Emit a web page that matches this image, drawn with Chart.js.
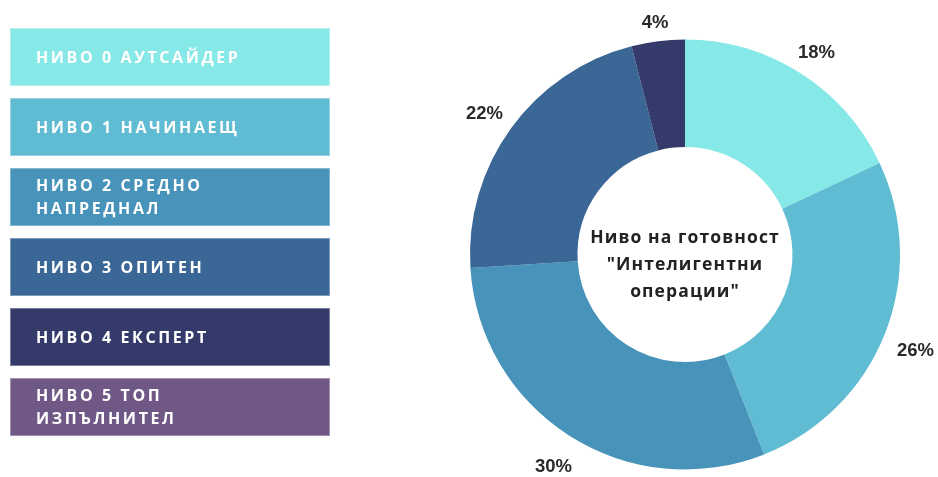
<!DOCTYPE html>
<html>
<head>
<meta charset="utf-8">
<script src="https://cdn.jsdelivr.net/npm/chart.js@4.4.1/dist/chart.umd.min.js"></script>
<style>
  html, body { margin: 0; padding: 0; background: #fff; }
  #wrap { position: relative; width: 938px; height: 477px; }
  #chart { position: absolute; left: 0; top: 0; }
  #legend { position: absolute; left: 10px; top: 28px; }
  .item {
    width: 320px; height: 58px; margin-bottom: 12px; box-sizing: border-box;
    display: flex; align-items: center; padding-left: 25px;
    color: #fff; font-family: "Open Sans", sans-serif; font-weight: 700;
    font-size: 16px; letter-spacing: 2.6px; line-height: 23px;
    border: 1px solid rgba(255,255,255,0.35);
  }
</style>
</head>
<body>
<div id="wrap">
  <canvas id="chart" width="938" height="477"></canvas>
  <div id="legend"></div>
</div>
<script>
'use strict';
const levels = ['НИВО 0 АУТСАЙДЕР', 'НИВО 1 НАЧИНАЕЩ', 'НИВО 2 СРЕДНО НАПРЕДНАЛ', 'НИВО 3 ОПИТЕН', 'НИВО 4 ЕКСПЕРТ', 'НИВО 5 ТОП ИЗПЪЛНИТЕЛ'];
const shares = [18, 26, 30, 22, 4, 0];
const colors = ['#87E9E7', '#5FBCD3', '#4793BA', '#3B6796', '#343B6B', '#705886'];
const centerLines = ['Ниво на готовност', '"Интелигентни', 'операции"'];

// legend boxes --------------------
{
  const box = document.getElementById('legend');
  levels.forEach((txt, i) => {
    const d = document.createElement('div');
    d.className = 'item';
    d.style.background = colors[i];
    d.textContent = txt;
    if (txt.length > 17) {
      // break into two rows like the original
      const words = txt.split(' ');
      d.innerHTML = words.slice(0, 3).join(' ') + '<br>' + words.slice(3).join(' ');
    }
    box.appendChild(d);
  });
}

// labels outside slices
const outerLabels = {
  id: 'outerLabels',
  afterDatasetsDraw(chart) {
    const ctx = chart.ctx;
    const meta = chart.getDatasetMeta(0);
    ctx.save();
    ctx.font = 'bold 18.5px "Liberation Sans", Arial, sans-serif';
    ctx.fillStyle = '#2a2a2a';
    ctx.textAlign = 'center';
    ctx.textBaseline = 'alphabetic';
    meta.data.forEach((arc, i) => {
      const v = shares[i];
      if (!v) return;
      const p = arc.getProps(['x', 'y', 'startAngle', 'endAngle', 'outerRadius'], true);
      const a = (p.startAngle + p.endAngle) / 2;
      const txt = v + '%';
      const w = ctx.measureText(txt).width;
      const off = 12 + Math.abs(Math.cos(a)) * w / 2 + Math.abs(Math.sin(a)) * 10;
      const r = p.outerRadius + off;
      ctx.fillText(txt, p.x + Math.cos(a) * r, p.y + 4 + Math.sin(a) * r + 6.5);
    });
    ctx.restore();
  }
};

const centerText = {
  id: 'centerText',
  afterDatasetsDraw(chart) {
    const ctx = chart.ctx;
    const arc = chart.getDatasetMeta(0).data[0];
    ctx.save();
    ctx.font = 'bold 17.5px "Open Sans", sans-serif';
    ctx.fillStyle = '#222';
    ctx.textAlign = 'center';
    ctx.textBaseline = 'alphabetic';
    ctx.letterSpacing = '1.1px';
    centerLines.forEach((ln, i) => {
      ctx.fillText(ln, arc.x, arc.y - 12 + i * 27);
    });
    ctx.restore();
  }
};

document.addEventListener('DOMContentLoaded', e => {
  const ctx = document.getElementById('chart');
  new Chart(ctx, {
    type: 'doughnut',
    data: {
      labels: levels,
      datasets: [{
        data: shares,
        backgroundColor: colors,
        borderWidth: 0
      }]
    },
    options: {
      responsive: false,
      animation: false,
      cutout: '50%',
      layout: { padding: { left: 470, right: 38, top: 39, bottom: 7 } },
      plugins: {
        legend: { display: false },
        tooltip: { enabled: false }
      }
    },
    plugins: [outerLabels, centerText]
  });
});
</script>
</body>
</html>
